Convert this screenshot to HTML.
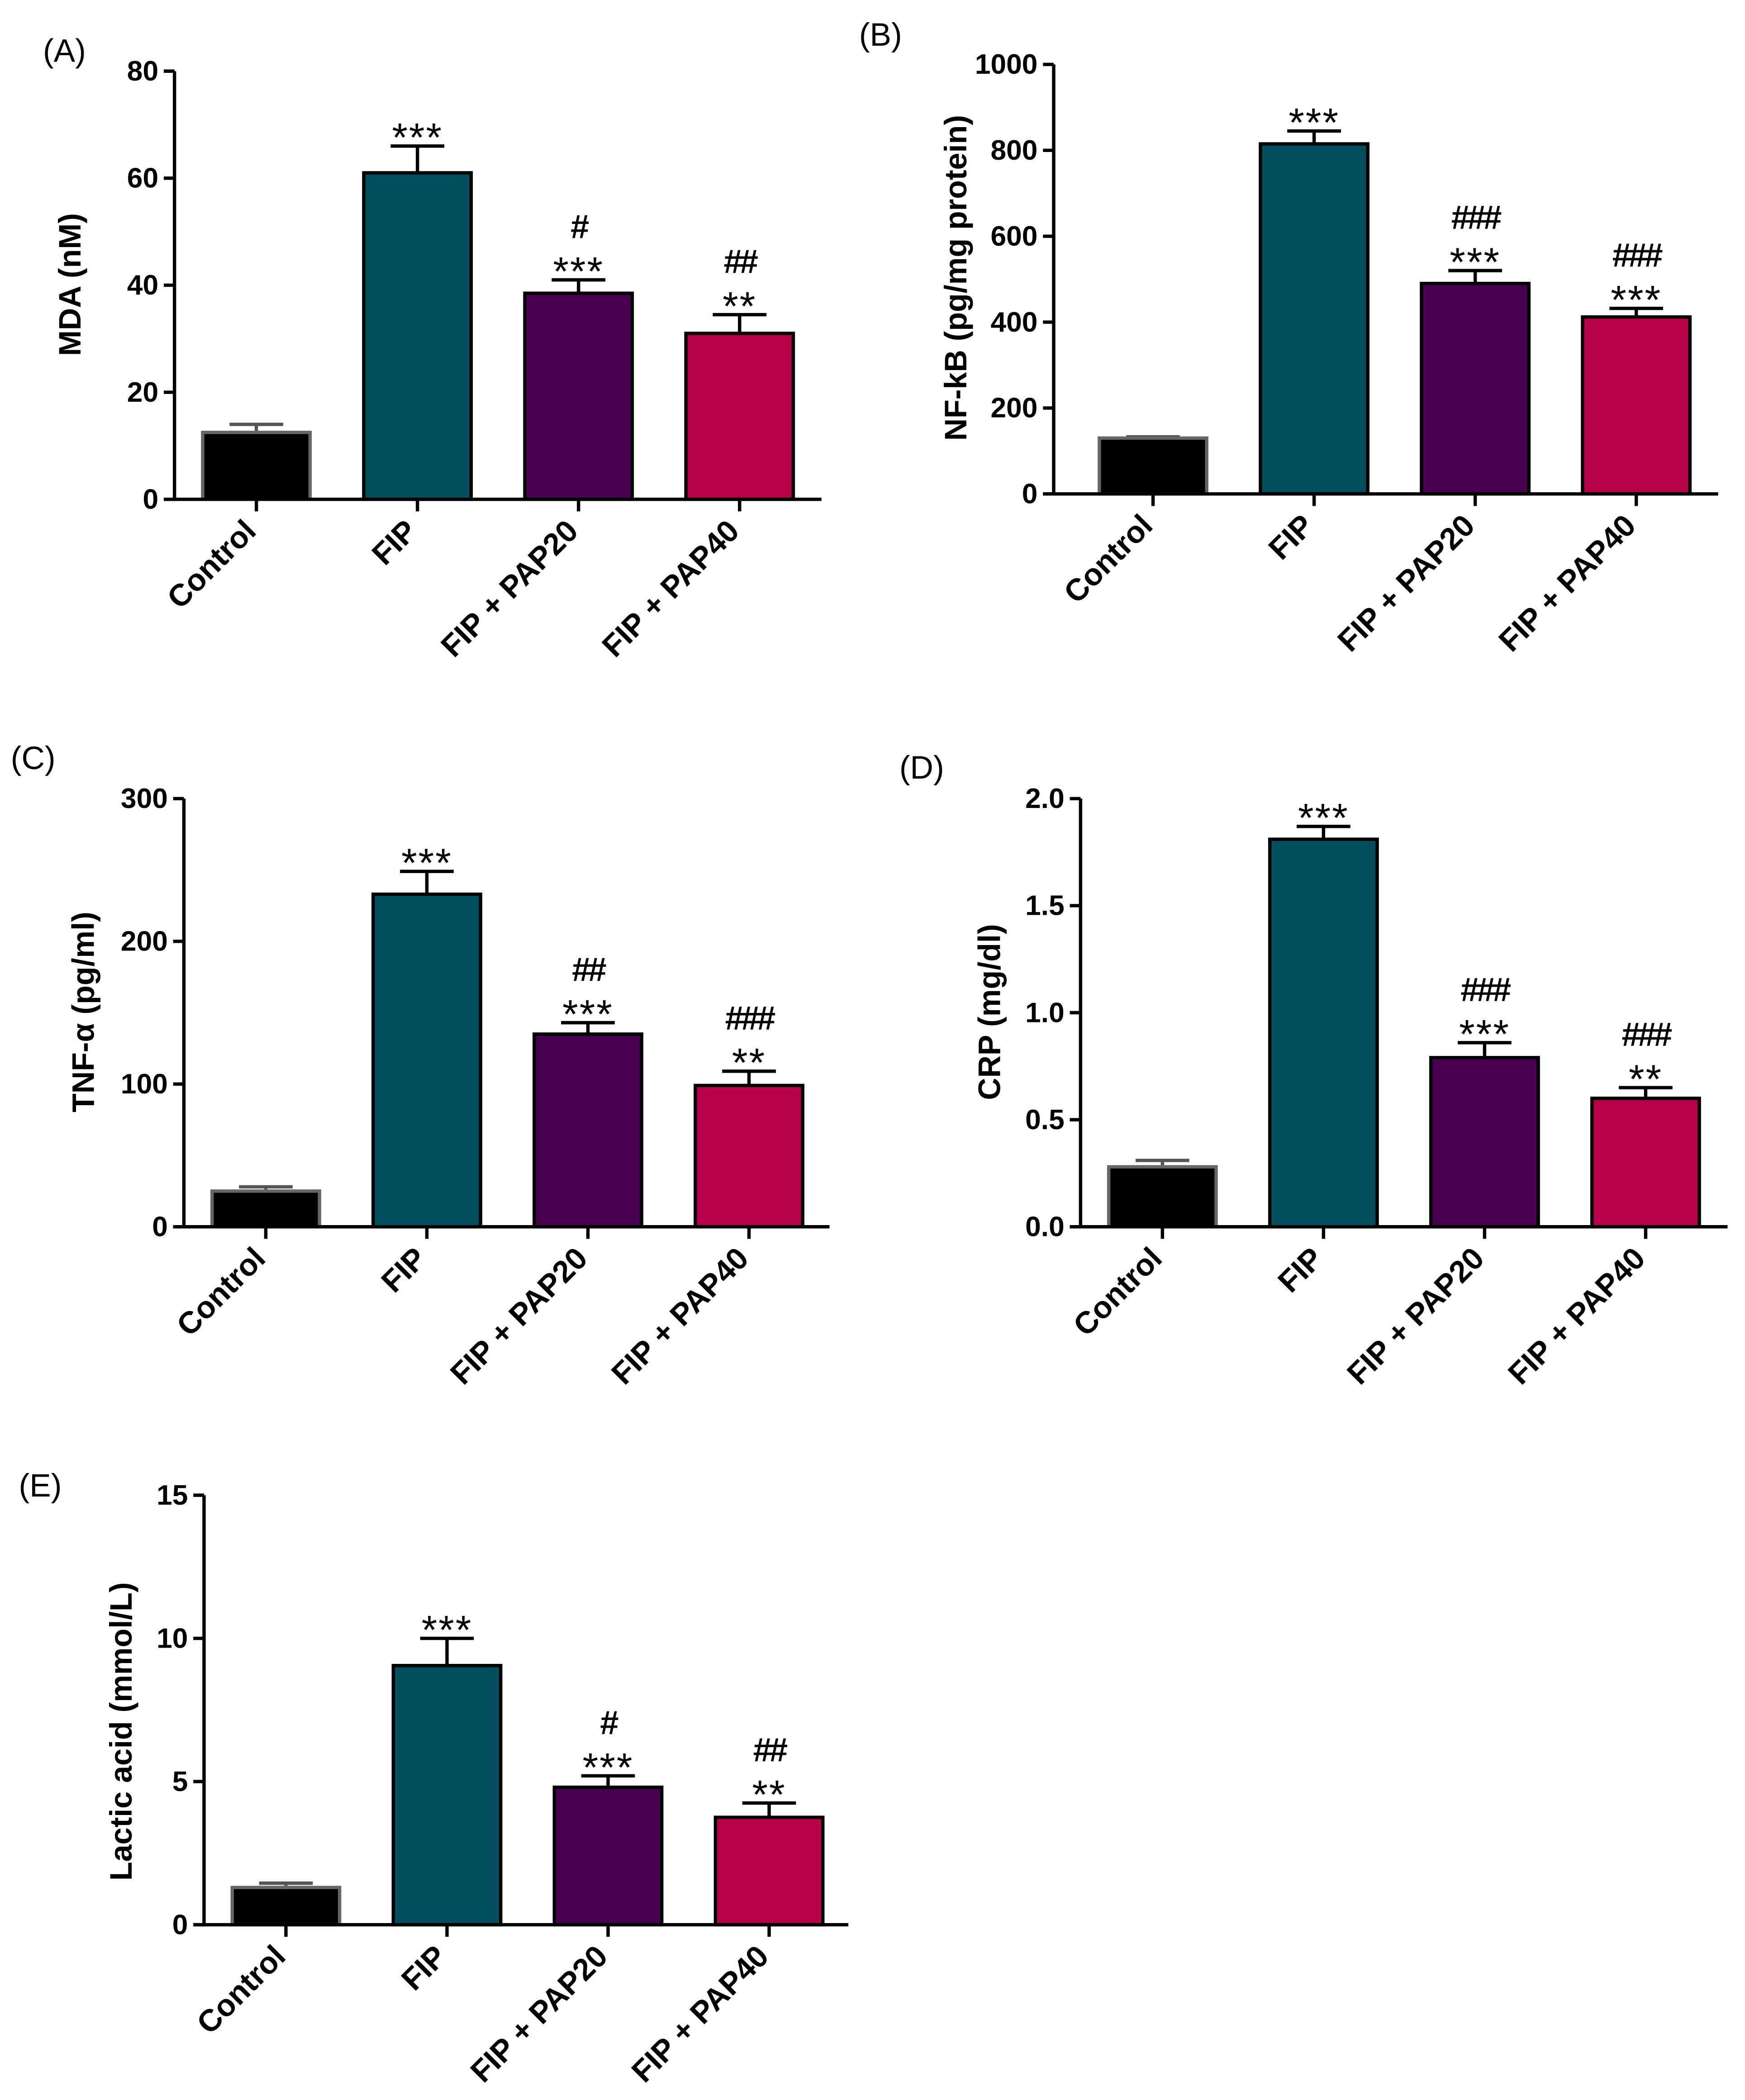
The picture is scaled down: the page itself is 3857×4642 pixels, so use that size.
<!DOCTYPE html>
<html><head><meta charset="utf-8">
<style>
html,body{margin:0;padding:0;background:#fff;}
svg{display:block;}
text{font-family:"Liberation Sans",sans-serif;}
</style></head>
<body>
<svg id="fig" width="3857" height="4642" viewBox="0 0 1300 1564.6" xmlns="http://www.w3.org/2000/svg"></svg>
<script>
const categories = ["Control", "FIP", "FIP + PAP20", "FIP + PAP40"];
const colors = ["#000000", "#034f60", "#4a0050", "#b8004a"];

const mdaValues = [12.5, 61, 38.5, 31];
const mdaErrors = [1.5, 5, 2.5, 3.5];
const mdaTicks = [0, 20, 40, 60, 80];
const mdaSig = [[""], ["***"], ["***", "#"], ["**", "##"]];

const nfkbValues = [130, 815, 490, 412];
const nfkbErrors = [3, 30, 30, 20];
const nfkbTicks = [0, 200, 400, 600, 800, 1000];
const nfkbSig = [[""], ["***"], ["***", "###"], ["***", "###"]];

const tnfValues = [25, 233, 135, 99];
const tnfErrors = [3, 16, 8, 10];
const tnfTicks = [0, 100, 200, 300];
const tnfSig = [[""], ["***"], ["***", "##"], ["**", "###"]];

const crpValues = [0.28, 1.81, 0.79, 0.60];
const crpErrors = [0.03, 0.06, 0.07, 0.05];
const crpTicks = [0.0, 0.5, 1.0, 1.5, 2.0];
const crpTickLabels = ["0.0", "0.5", "1.0", "1.5", "2.0"];
const crpSig = [[""], ["***"], ["***", "###"], ["**", "###"]];

const lacValues = [1.3, 9.05, 4.8, 3.75];
const lacErrors = [0.15, 0.95, 0.4, 0.5];
const lacTicks = [0, 5, 10, 15];
const lacSig = [[""], ["***"], ["***", "#"], ["**", "##"]];

const NS = "http://www.w3.org/2000/svg";
const svg = document.getElementById("fig");
function mk(tag, attrs, parent, txt) {
  const e = document.createElementNS(NS, tag);
  for (const k in attrs) e.setAttribute(k, attrs[k]);
  if (txt !== undefined) e.textContent = txt;
  (parent || svg).appendChild(e);
  return e;
}

function panel(cfg) {
  const g = mk("g", {});
  
  
  const ymax = cfg.ticks[cfg.ticks.length - 1];
  const yS = v => cfg.y0 - (v / ymax) * (cfg.y0 - cfg.yTop);
  const xS = i => cfg.c0 + i * 120;
  const pl = mk("text", {x: cfg.lx, y: cfg.ly, "font-size": 24, fill: "#000"}, g, cfg.letter);
  
  
  cfg.values.forEach((v, i) => {
    const cx = xS(i), w = 80;
    const top = yS(v), etop = yS(v + cfg.errors[i]);
    const eb = mk("line", {x1: cx, x2: cx, y1: top, y2: etop, stroke: i === 0 ? "#555" : "#000", "stroke-width": 2.5}, g);
    
    
    const cap = mk("line", {x1: cx - 20, x2: cx + 20, y1: etop, y2: etop, stroke: i === 0 ? "#555" : "#000", "stroke-width": 2.5}, g);
    
    
    const r = mk("rect", {x: cx - w / 2, y: top, width: w, height: cfg.y0 - top, fill: colors[i], stroke: i === 0 ? "#666" : "#000", "stroke-width": 2.5}, g);
    
    
    const sig = cfg.sig[i];
    sig.forEach((s, k) => {
      if (!s) return;
      const isStar = s[0] === "*";
      const y = k === 0 ? etop + 4 : etop - 31;
      const t = mk("text", {x: cx, y: y, "text-anchor": "middle", "font-size": isStar ? 30 : 25, "font-weight": isStar ? "normal" : "bold", "letter-spacing": isStar ? 1 : -2, fill: "#000"}, g, s);
      
      
    });
    const ct = mk("line", {x1: cx, x2: cx, y1: cfg.y0, y2: cfg.y0 + 9, stroke: "#000", "stroke-width": 2.5}, g);
    
    
    const lx = cx + 1, ly = cfg.y0 + 25;
    const lab = mk("text", {x: lx, y: ly, "text-anchor": "end", "font-size": 23, "font-weight": "bold", fill: "#000", transform: `rotate(-45 ${lx} ${ly})`}, g, categories[i]);
    
    
  });
  const ya = mk("line", {x1: cfg.ax, x2: cfg.ax, y1: cfg.yTop, y2: cfg.y0 + 1.25, stroke: "#000", "stroke-width": 2.5}, g);
  
  
  const xa = mk("line", {x1: cfg.ax - 8, x2: cfg.xEnd, y1: cfg.y0, y2: cfg.y0, stroke: "#000", "stroke-width": 2.5}, g);
  
  
  cfg.ticks.forEach((t, k) => {
    const y = yS(t);
    const tl = mk("line", {x1: cfg.ax - 8, x2: cfg.ax, y1: y, y2: y, stroke: "#000", "stroke-width": 2.5}, g);
    
    
    const tx = mk("text", {x: cfg.ax - 12, y: y + 7, "text-anchor": "end", "font-size": 21, "font-weight": "bold", fill: "#000"}, g, cfg.tickLabels ? cfg.tickLabels[k] : String(t));
    
    
  });
  const yt = mk("text", {x: cfg.tx, y: cfg.ty, "text-anchor": "middle", "font-size": 23, "font-weight": "bold", fill: "#000", transform: `rotate(-90 ${cfg.tx} ${cfg.ty})`}, g, cfg.title);
  
  
}

panel({name: "panel-a-mda", letter: "(A)", lx: 32, ly: 46, ax: 130, yTop: 53, y0: 372, xEnd: 612, c0: 191,
  values: mdaValues, errors: mdaErrors, ticks: mdaTicks, sig: mdaSig, title: "MDA (nM)", tx: 60, ty: 212});
panel({name: "panel-b-nfkb", letter: "(B)", lx: 640, ly: 34, ax: 785, yTop: 48, y0: 368, xEnd: 1280, c0: 859,
  values: nfkbValues, errors: nfkbErrors, ticks: nfkbTicks, sig: nfkbSig, title: "NF-kB (pg/mg protein)", tx: 720, ty: 207});
panel({name: "panel-c-tnf", letter: "(C)", lx: 8, ly: 573, ax: 137, yTop: 595, y0: 914, xEnd: 618, c0: 198,
  values: tnfValues, errors: tnfErrors, ticks: tnfTicks, sig: tnfSig, title: "TNF-\u03b1 (pg/ml)", tx: 70, ty: 754});
panel({name: "panel-d-crp", letter: "(D)", lx: 670, ly: 580, ax: 805, yTop: 595, y0: 914, xEnd: 1287, c0: 866,
  values: crpValues, errors: crpErrors, ticks: crpTicks, tickLabels: crpTickLabels, sig: crpSig, title: "CRP (mg/dl)", tx: 745, ty: 754});
panel({name: "panel-e-lactic", letter: "(E)", lx: 14, ly: 1115, ax: 152, yTop: 1114, y0: 1434, xEnd: 632, c0: 213,
  values: lacValues, errors: lacErrors, ticks: lacTicks, sig: lacSig, title: "Lactic acid (mmol/L)", tx: 98, ty: 1290});
</script>
</body></html>
